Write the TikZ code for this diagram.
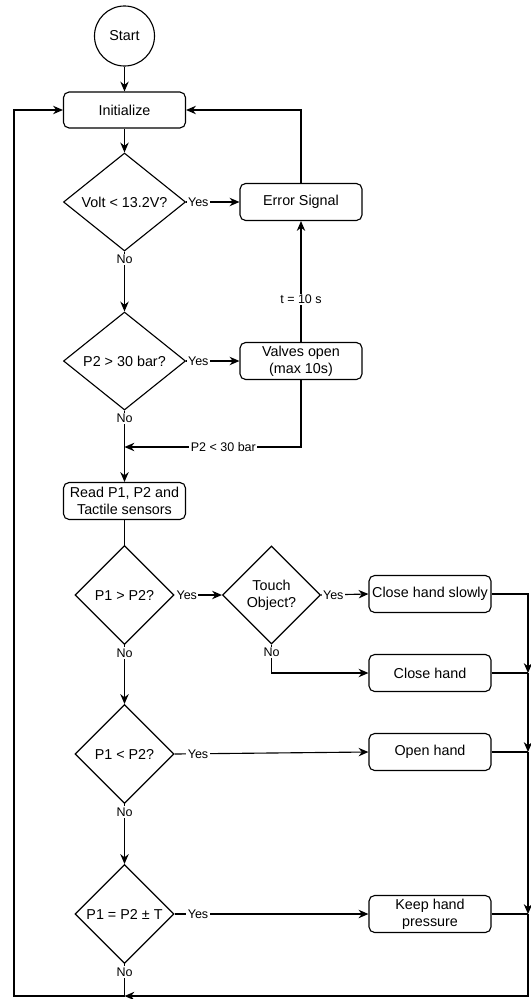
\documentclass[tikz,border=0pt]{standalone}
\usepackage{fontspec}
\setmainfont{Liberation Sans}
\usetikzlibrary{shapes.geometric,arrows.meta}
\tikzset{
  proc/.style={draw,rounded corners=4pt,minimum width=3.05cm,minimum height=0.925cm,inner sep=1pt,align=center,font=\fontsize{10.2}{12}\selectfont},
  dec/.style={draw,diamond,inner sep=0pt,minimum width=3.05cm,minimum height=2.45cm,align=center,font=\fontsize{10.2}{12}\selectfont},
  sdec/.style={dec,minimum width=2.475cm,minimum height=2.475cm},
  term/.style={draw,circle,minimum size=1.5cm,inner sep=0pt,font=\fontsize{10.2}{12}\selectfont},
  lbl/.style={fill=white,inner sep=1pt,font=\fontsize{8.9}{10}\selectfont}
}
\begin{document}
\begin{tikzpicture}[>={Stealth[length=7pt,width=6pt]},x=0.025cm,y=-0.025cm,line width=0.8pt]
\useasboundingbox (0,0) rectangle (531,999);
% cac khoi chinh
\node[term] (start) at (124.5,36) {Start};
\node[proc,minimum height=0.9cm] (init) at (124.5,110) {Initialize};
\node[dec] (volt) at (124.5,202) {Volt < 13.2V?};
\node[proc] (err) at (301,202) {Error Signal};
\node[dec] (ptwo) at (124.5,361) {P2 > 30 bar?};
\node[proc] (valve) at (301,361) {Valves open\\(max 10s)};
\node[proc] (read) at (124.5,501) {Read P1, P2 and\\Tactile sensors};
\node[sdec] (pgt) at (124.5,595) {P1 > P2?};
\node[sdec,minimum width=2.45cm,minimum height=2.45cm] (touch) at (271.5,595) {Touch\\Object?};
\node[proc] (slow) at (430,594) {Close hand slowly};
\node[proc] (close) at (430,673) {Close hand};
\node[sdec] (plt) at (124.5,754) {P1 < P2?};
\node[proc] (open) at (430,752) {Open hand};
\node[sdec] (peq) at (124.5,914) {P1 = P2 ± T};
\node[proc] (keep) at (430,914) {Keep hand\\pressure};
% cac diem noi
\coordinate (m1) at (124.5,447);
\coordinate (j1) at (528,673);
\coordinate (j2) at (528,752);
\coordinate (j3) at (528,914);
\coordinate (b1) at (124.5,996);
\coordinate (b2) at (14,996);
% phan tren
\draw[->] (start)--(init);
\draw[->] (init)--(volt);
\draw[->] (volt.east)--node[lbl,at start,right]{Yes}(err.west);
\draw[->] (volt.south)--node[lbl,at start,below=1pt]{No}(ptwo.north);
\draw[->] (err.north)|-(init.east);
\draw[->] (ptwo.east)--node[lbl,at start,right]{Yes}(valve.west);
\draw[->] (valve.north)--node[lbl,pos=0.35]{t = 10 s}(err.south);
\draw[->] (valve.south)|-node[lbl,pos=0.72]{P2 < 30 bar}(m1);
\draw[->] (ptwo.south)--node[lbl,at start,below=1pt]{No}(read.north);
\draw (read.south)--(pgt.north);
% phan duoi
\draw[->] (pgt.east)--node[lbl,at start,right]{Yes}(touch.west);
\draw[->] (touch.east)--node[lbl,at start,right]{Yes}(slow.west);
\draw[->] (touch.south)|-node[lbl,at start,below=1pt]{No}(close.west);
\draw[->] (pgt.south)--node[lbl,at start,below=1pt]{No}(plt.north);
\draw[->] (plt.east)--node[lbl,at start,right=8pt]{Yes}(open.west);
\draw[->] (plt.south)--node[lbl,at start,below=1pt]{No}(peq.north);
\draw[->] (peq.east)--node[lbl,at start,right=8pt]{Yes}(keep.west);
% vong lap ve Initialize
\draw[->] (slow.east)-|(j1);
\draw (close.east)--(j1);
\draw[->] (j1)--(j2);
\draw (open.east)--(j2);
\draw[->] (j2)--(j3);
\draw (keep.east)--(j3);
\draw[->] (j3)|-(b1);
\draw[->] (peq.south)--node[lbl,at start,below=1pt]{No}(b1)--(b2)|-(init.west);
\end{tikzpicture}
\end{document}
